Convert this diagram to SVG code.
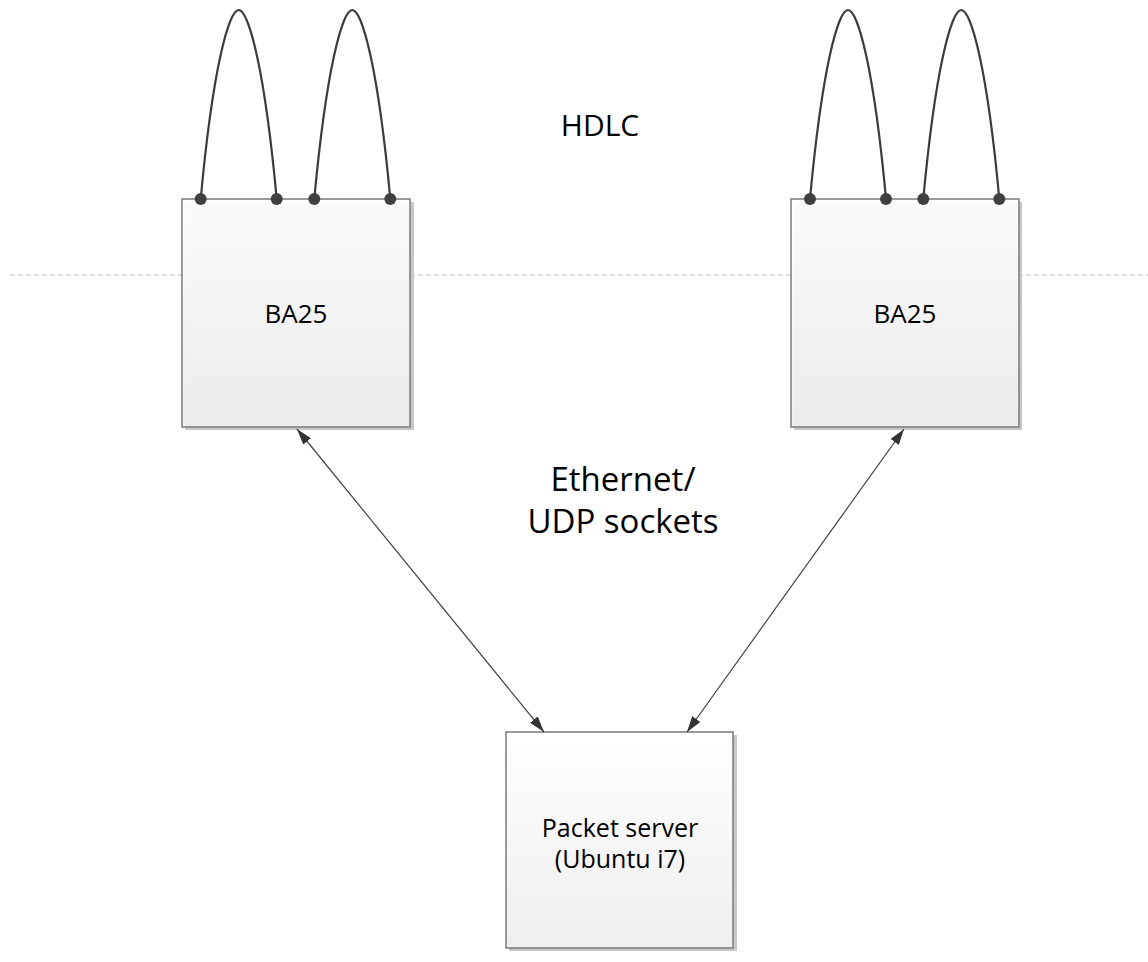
<svg xmlns="http://www.w3.org/2000/svg" xmlns:xlink="http://www.w3.org/1999/xlink" width="1148" height="962" viewBox="0 0 1148 962">
<style>
.box{fill:url(#g);stroke:#7a7a7a;stroke-width:1.5}
.shadow{fill:#c8c8c8}
.loop{fill:none;stroke:#3c3c3c;stroke-width:2.2}
.dot{fill:#404040}
.conn{stroke:#404040;stroke-width:1.2;fill:none;marker-start:url(#ah);marker-end:url(#ah)}
text{font-family:"Open Sans","Noto Sans","Liberation Sans",sans-serif;fill:#000;text-anchor:middle}
.hd{font-size:30px}
.big{font-size:33px}
.mid{font-size:25px}
.sm{font-size:26px}
</style>
<defs>
<linearGradient id="g" x1="0" y1="0" x2="0" y2="1">
<stop offset="0" stop-color="#ffffff"/>
<stop offset="1" stop-color="#eeeeee"/>
</linearGradient>
<marker id="ah" viewBox="0 0 16 10" refX="16" refY="5" markerWidth="16" markerHeight="10" markerUnits="userSpaceOnUse" orient="auto-start-reverse">
<path d="M0,0 L16,5 L0,10 Z" fill="#333"/>
</marker>
<path id="lp" class="loop" d="M0,0 C12,-130 28,-189 38,-189 C48,-189 64,-130 76,0"/>
</defs>
<rect width="1148" height="962" fill="#fff"/>
<line x1="10" y1="275" x2="1148" y2="275" stroke="#bdbdbd" stroke-width="1.2" stroke-dasharray="5,3"/>
<g id="ba25-left">
<rect class="shadow" x="185" y="202" width="229" height="228"/>
<rect class="box" x="182" y="199" width="228" height="228" fill-opacity="0.93"/>
<use xlink:href="#lp" x="200.7" y="199"/>
<use xlink:href="#lp" x="314.3" y="199"/>
<circle class="dot" cx="200.7" cy="199" r="6"/>
<circle class="dot" cx="276.7" cy="199" r="6"/>
<circle class="dot" cx="314.3" cy="199" r="6"/>
<circle class="dot" cx="390.3" cy="199" r="6"/>
<text class="sm" x="296" y="323">BA25</text>
</g>
<g id="ba25-right">
<rect class="shadow" x="794" y="202" width="228" height="228"/>
<rect class="box" x="791" y="199" width="228" height="228" fill-opacity="0.93"/>
<use xlink:href="#lp" x="810" y="199"/>
<use xlink:href="#lp" x="923.3" y="199"/>
<circle class="dot" cx="810" cy="199" r="6"/>
<circle class="dot" cx="886" cy="199" r="6"/>
<circle class="dot" cx="923.3" cy="199" r="6"/>
<circle class="dot" cx="999.3" cy="199" r="6"/>
<text class="sm" x="905" y="323">BA25</text>
</g>
<g id="packet-server">
<rect class="shadow" x="509" y="735" width="228" height="216"/>
<rect class="box" x="506" y="732" width="227" height="216"/>
<text class="mid" x="620" y="837">Packet server</text>
<text class="mid" x="620" y="868">(Ubuntu i7)</text>
</g>
<g id="labels">
<text class="hd" x="600" y="136">HDLC</text>
<text class="big" x="623" y="491">Ethernet/</text>
<text class="big" x="623" y="533">UDP sockets</text>
</g>
<g id="connectors">
<line class="conn" x1="297" y1="429" x2="544" y2="732"/>
<line class="conn" x1="904" y1="429" x2="687" y2="732"/>
</g>
</svg>
